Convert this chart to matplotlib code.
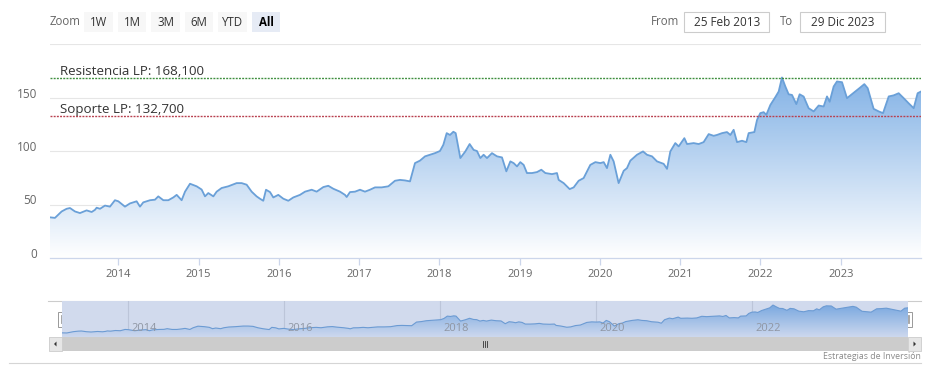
import numpy as np
import matplotlib
matplotlib.use("Agg")
import matplotlib.pyplot as plt
from matplotlib.patches import Rectangle, Polygon
from matplotlib.transforms import ScaledTranslation

plt.rcParams['font.family'] = ['Open Sans', 'DejaVu Sans']

# ---------------- data ----------------
dates = [2013.149, 2013.211, 2013.294, 2013.356, 2013.398, 2013.460, 2013.522, 2013.605,
         2013.668, 2013.709, 2013.730, 2013.772, 2013.834, 2013.896, 2013.958, 2014.000,
         2014.083, 2014.145, 2014.228, 2014.270, 2014.311, 2014.395, 2014.457, 2014.498,
         2014.561, 2014.623, 2014.685, 2014.727, 2014.789, 2014.831, 2014.893, 2014.976,
         2015.038, 2015.080, 2015.121, 2015.184, 2015.225, 2015.287, 2015.370, 2015.474,
         2015.537, 2015.599, 2015.661, 2015.723, 2015.765, 2015.806, 2015.840, 2015.890,
         2015.931, 2015.993, 2016.056, 2016.118, 2016.180, 2016.263, 2016.326, 2016.409,
         2016.471, 2016.554, 2016.616, 2016.679, 2016.762, 2016.824, 2016.845, 2016.886,
         2016.949, 2017.011, 2017.073, 2017.135, 2017.198, 2017.281, 2017.364, 2017.447,
         2017.509, 2017.571, 2017.634, 2017.696, 2017.758, 2017.821, 2017.883, 2017.945,
         2018.007, 2018.049, 2018.091, 2018.132, 2018.174, 2018.203, 2018.261, 2018.323,
         2018.377, 2018.427, 2018.468, 2018.510, 2018.551, 2018.593, 2018.655, 2018.718,
         2018.780, 2018.834, 2018.884, 2018.925, 2018.967, 2019.008, 2019.050, 2019.091,
         2019.154, 2019.216, 2019.270, 2019.320, 2019.403, 2019.465, 2019.486, 2019.548,
         2019.623, 2019.673, 2019.735, 2019.797, 2019.880, 2019.943, 2020.005, 2020.047,
         2020.088, 2020.130, 2020.171, 2020.233, 2020.296, 2020.337, 2020.379, 2020.462,
         2020.537, 2020.586, 2020.649, 2020.711, 2020.794, 2020.836, 2020.877, 2020.939,
         2020.981, 2021.052, 2021.085, 2021.168, 2021.230, 2021.292, 2021.355, 2021.417,
         2021.458, 2021.521, 2021.583, 2021.625, 2021.666, 2021.708, 2021.770, 2021.824,
         2021.853, 2021.924, 2021.957, 2021.998, 2022.040, 2022.073, 2022.123, 2022.185,
         2022.227, 2022.268, 2022.310, 2022.351, 2022.393, 2022.447, 2022.488, 2022.538,
         2022.600, 2022.663, 2022.725, 2022.787, 2022.829, 2022.862, 2022.912, 2022.953,
         2023.016, 2023.078, 2023.128, 2023.182, 2023.244, 2023.294, 2023.336, 2023.410,
         2023.473, 2023.527, 2023.598, 2023.659, 2023.722, 2023.784, 2023.846, 2023.909,
         2023.958, 2024.000]
values = [38.0, 37.5, 43.5, 46.0, 46.7, 43.5, 42.0, 44.5,
          43.0, 45.0, 47.0, 46.0, 49.0, 48.0, 54.0, 53.0,
          48.0, 51.0, 53.0, 48.0, 52.0, 54.0, 54.5, 57.6,
          54.0, 54.0, 56.6, 59.0, 54.0, 62.0, 69.4, 67.0,
          64.0, 57.6, 60.7, 57.6, 62.0, 65.4, 67.0, 70.0,
          70.0, 68.5, 62.0, 57.6, 55.4, 53.5, 63.8, 61.6,
          56.6, 59.0, 55.4, 53.5, 56.6, 59.0, 62.0, 63.8,
          62.0, 66.3, 67.5, 64.7, 62.0, 59.0, 57.0, 61.6,
          62.0, 63.8, 62.0, 63.8, 66.0, 66.0, 67.0, 72.2,
          73.0, 72.5, 71.6, 88.7, 91.0, 95.0, 96.5, 98.0,
          100.0, 105.8, 116.7, 115.0, 118.0, 116.7, 93.4, 99.6,
          106.5, 101.0, 100.0, 93.4, 96.5, 93.4, 98.0, 95.0,
          94.0, 81.0, 90.3, 88.7, 85.6, 89.6, 87.0, 79.4,
          79.4, 80.3, 82.5, 79.4, 78.4, 79.4, 73.0, 70.0,
          64.4, 66.0, 72.2, 74.7, 87.0, 89.6, 88.7, 89.6,
          84.0, 96.5, 90.3, 70.0, 81.5, 84.0, 91.0, 96.5,
          99.6, 96.5, 95.0, 90.3, 88.0, 83.3, 99.6, 107.4,
          104.3, 112.0, 106.5, 107.4, 106.5, 108.3, 115.8, 114.2,
          115.0, 116.7, 117.7, 115.0, 119.8, 108.3, 109.6, 108.3,
          116.7, 117.7, 129.0, 135.4, 136.3, 133.8, 143.0, 150.3,
          155.6, 168.7, 160.3, 153.0, 152.4, 143.8, 153.0, 150.9,
          140.0, 137.0, 142.5, 141.6, 151.0, 146.0, 160.3, 165.0,
          164.3, 149.4, 152.4, 155.6, 159.4, 162.5, 158.7, 139.4,
          137.0, 135.4, 151.0, 152.0, 154.0, 149.4, 144.6, 140.0,
          154.0, 155.6]

year_ticks = [2014, 2015, 2016, 2017, 2018, 2019, 2020, 2021, 2022, 2023]
nav_year_ticks = [2014, 2016, 2018, 2020, 2022]
y_ticks = [0, 50, 100, 150, 200]
y_tick_labels = ['0', '50', '100', '150', '']
resistance = 168.1
support = 132.7
resistance_label = "Resistencia LP: 168,100"
support_label = "Soporte LP: 132,700"
zoom_buttons = ["1W", "1M", "3M", "6M", "YTD", "All"]
selected_button = "All"
date_from = "25 Feb 2013"
date_to = "29 Dic 2023"
credit = "Estrategias de Inversión"

x_start, x_end = 2013.149, 2024.0

# ---------------- figure ----------------
W, H = 937, 378
fig = plt.figure(figsize=(W / 100, H / 100), dpi=100)


def px_axes(x0, y0, x1, y1):
    return fig.add_axes([x0 / W, 1 - y1 / H, (x1 - x0) / W, (y1 - y0) / H])


ui = fig.add_axes([0, 0, 1, 1])
ui.set_xlim(0, W)
ui.set_ylim(H, 0)
ui.axis('off')

# ---- range selector ----
ui.text(50, 21.5, "Zoom", va='center', ha='left', fontsize=8.3, color='#666666')
for i, b in enumerate(zoom_buttons):
    left = 84.3 + i * 33.5
    sel = (b == selected_button)
    ui.add_patch(Rectangle((left, 12), 28.5, 20, facecolor='#e6ebf5' if sel else '#f7f7f7',
                           edgecolor='none'))
    ui.text(left + 14.25, 22, b, ha='center', va='center', fontsize=8.3,
            color='#000000' if sel else '#333333', fontweight='bold' if sel else 'normal')

ui.text(651, 21.5, "From", ha='left', va='center', fontsize=8.3, color='#666666')
ui.add_patch(Rectangle((684, 12), 85.5, 20, facecolor='white', edgecolor='#cccccc', lw=0.8))
ui.text(726.75, 22, date_from, ha='center', va='center', fontsize=8.5, color='#333333')
ui.text(780, 21.5, "To", ha='left', va='center', fontsize=8.3, color='#666666')
ui.add_patch(Rectangle((800, 12), 85.5, 20, facecolor='white', edgecolor='#cccccc', lw=0.8))
ui.text(842.75, 22, date_to, ha='center', va='center', fontsize=8.5, color='#333333')

# ---------------- main chart ----------------
ax = px_axes(50, 44, 921, 258)
ax.set_xlim(x_start, x_end)
ax.set_ylim(0, 200)
for s in ['top', 'right', 'left']:
    ax.spines[s].set_visible(False)
ax.spines['bottom'].set_color('#ccd6eb')
ax.spines['bottom'].set_linewidth(0.9)
ax.set_yticks(y_ticks)
ax.set_yticklabels(y_tick_labels)
ax.yaxis.grid(True, color='#e6e6e6', lw=0.8)
ax.set_axisbelow(True)
ax.tick_params(axis='y', length=0, labelsize=8.5, labelcolor='#666666', pad=9.5)
off = ScaledTranslation(0, 0.05, fig.dpi_scale_trans)
for lab in ax.get_yticklabels():
    lab.set_transform(lab.get_transform() + off)
ax.set_xticks(year_ticks)
ax.set_xticklabels([str(y) for y in year_ticks])
ax.tick_params(axis='x', length=5, width=0.9, color='#ccd6eb', labelsize=8,
               labelcolor='#666666', pad=3)

# gradient area
base = np.array([108, 164, 225]) / 255.0
fr = np.linspace(1, 0, 256)[:, None]
grad = 1 - (1 - base[None, :]) * fr
grad = grad[:, None, :]
im = ax.imshow(grad, extent=(x_start, x_end, 0, 200), aspect='auto', origin='upper',
               zorder=1, interpolation='bilinear')
verts = [(dates[0], 0)] + list(zip(dates, values)) + [(dates[-1], 0)]
poly = Polygon(verts, closed=True, facecolor='none', edgecolor='none')
ax.add_patch(poly)
im.set_clip_path(poly)
ax.plot(dates, values, color='#6aa0d8', lw=1.3, zorder=3, solid_joinstyle='round')

ax.axhline(resistance, color='#3f8f3f', lw=1.0, ls=(0, (1.4, 0.9)), zorder=4)
ax.axhline(support, color='#b8404f', lw=1.0, ls=(0, (1.4, 0.9)), zorder=4)
ax.annotate(resistance_label, xy=(0, resistance), xycoords=ax.get_yaxis_transform(),
            xytext=(10, 3), textcoords='offset pixels', ha='left', va='baseline',
            fontsize=9.6, color='#333333', zorder=5)
ax.annotate(support_label, xy=(0, support), xycoords=ax.get_yaxis_transform(),
            xytext=(10, 3.5), textcoords='offset pixels', ha='left', va='baseline',
            fontsize=9.6, color='#333333', zorder=5)

# ---------------- navigator ----------------
ui.plot([48, 921], [301, 301], color='#cccccc', lw=0.8)
nav = px_axes(62, 301, 908, 337)
nav.set_xlim(x_start, x_end)
nav.set_ylim(18.5, 187.7)
nav.set_facecolor('#d1daed')
for s in nav.spines.values():
    s.set_visible(False)
nav.set_xticks([])
nav.set_yticks([])
for yr in nav_year_ticks:
    nav.axvline(yr, color='#bcc5d9', lw=0.8, zorder=1)
    nav.annotate(str(yr), xy=(yr, 0), xycoords=nav.get_xaxis_transform(), xytext=(3, 3),
                 textcoords='offset pixels', ha='left', va='bottom', fontsize=8,
                 color='#8f96a3', zorder=6)
nbase = np.array([112, 163, 222]) / 255.0
nbot = np.array([205, 216, 238]) / 255.0
ngrad = nbot[None, :] + (nbase - nbot)[None, :] * fr
ngrad = ngrad[:, None, :]
nim = nav.imshow(ngrad, extent=(x_start, x_end, 18.5, 187.7), aspect='auto', origin='upper',
                 zorder=3, interpolation='bilinear')
npoly = Polygon([(dates[0], 18.5)] + list(zip(dates, values)) + [(dates[-1], 18.5)],
                closed=True, facecolor='none', edgecolor='none')
nav.add_patch(npoly)
nim.set_clip_path(npoly)
nav.plot(dates, values, color='#6c9bd3', lw=0.8, zorder=4)

# handles
for hx in (58.5, 905.0):
    ui.add_patch(Rectangle((hx, 311.5), 7, 15, facecolor='white', edgecolor='#999999',
                           lw=0.7, zorder=5))
    ui.plot([hx + 2.7, hx + 2.7], [315, 323], color='#999999', lw=0.6, zorder=6)
    ui.plot([hx + 4.3, hx + 4.3], [315, 323], color='#999999', lw=0.6, zorder=6)

# scrollbar
ui.add_patch(Rectangle((49, 337), 872, 14, facecolor='#f2f2f2', edgecolor='none'))
ui.add_patch(Rectangle((62, 337), 846, 14, facecolor='#cccccc', edgecolor='none'))
ui.add_patch(Rectangle((49, 337), 13, 14, facecolor='#e6e6e6', edgecolor='#cccccc', lw=0.6))
ui.add_patch(Rectangle((908, 337), 13, 14, facecolor='#e6e6e6', edgecolor='#cccccc', lw=0.6))
ui.add_patch(Polygon([(54, 344), (56.5, 341.5), (56.5, 346.5)], closed=True,
                     facecolor='#333333', edgecolor='none'))
ui.add_patch(Polygon([(916, 344), (913.5, 341.5), (913.5, 346.5)], closed=True,
                     facecolor='#333333', edgecolor='none'))
for gx in (483, 485, 487):
    ui.plot([gx, gx], [341, 347], color='#333333', lw=0.6)

# footer
ui.plot([9, 921], [363, 363], color='#d5d5d5', lw=0.8)
ui.text(921, 356.5, credit, ha='right', va='center', fontsize=6.3, color='#8a8a8a')

fig.savefig('out.png', dpi=100)
